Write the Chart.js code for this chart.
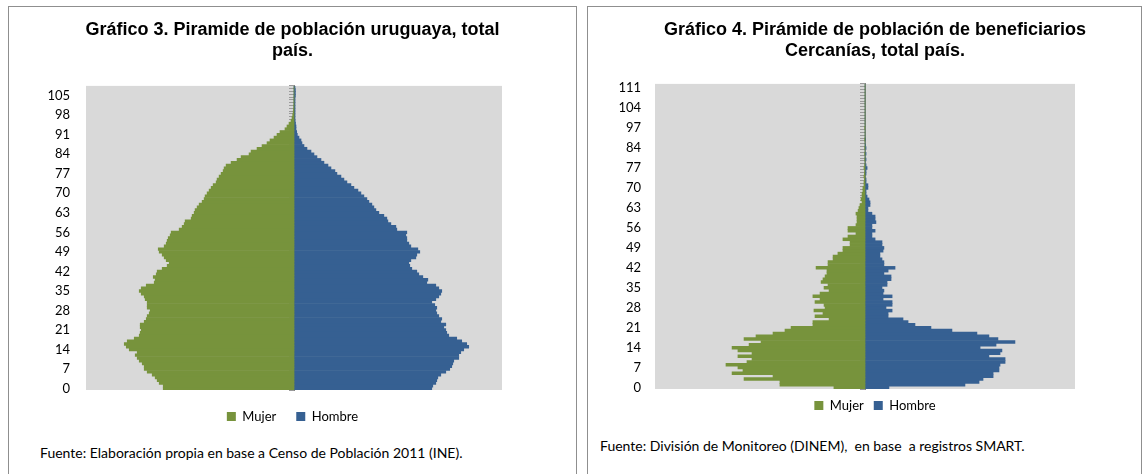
<!DOCTYPE html>
<html lang="es">
<head>
<meta charset="utf-8">
<title>Pirámides de población</title>
<script src="https://cdn.jsdelivr.net/npm/chart.js@4.4.1/dist/chart.umd.min.js"></script>
<style>
  html, body { margin: 0; padding: 0; background: #fff; }
  body { width: 1147px; height: 474px; position: relative; overflow: hidden; font-family: Lato, sans-serif; }
  .panel { position: absolute; top: 6px; height: 480px; border: 1px solid #8f8f8f; box-sizing: border-box; }
  #panel3 { left: 8px; width: 569px; }
  #panel4 { left: 587px; width: 555px; }
  .lienzo { position: absolute; top: 0; }
  #caja3 { left: 0; width: 567px; height: 426px; }
  #caja4 { left: 22px; width: 530px; height: 415px; }
  .fuente { position: absolute; font-size: 14px; color: #000; white-space: nowrap; }
  #fuente3 { left: 31px; top: 437px; }
  #fuente4 { left: 12px; top: 430px; }
</style>
</head>
<body>

<div class="panel" id="panel3">
  <div class="lienzo" id="caja3"><canvas id="piramideUruguay"></canvas></div>
  <div class="fuente" id="fuente3">Fuente: Elaboración propia en base a Censo de Población 2011 (INE).</div>
</div>

<div class="panel" id="panel4">
  <div class="lienzo" id="caja4"><canvas id="piramideCercanias"></canvas></div>
  <div class="fuente" id="fuente4">Fuente: División de Monitoreo (DINEM),&nbsp; en base&nbsp; a registros SMART.</div>
</div>

<script>
// ======================
// DATOS GRÁFICO 3 (censo 2011, personas por edad simple)
// ======================

const edadesUy = [
  0, 1, 2, 3, 4, 5, 6, 7, 8, 9,
  10, 11, 12, 13, 14, 15, 16, 17, 18, 19,
  20, 21, 22, 23, 24, 25, 26, 27, 28, 29,
  30, 31, 32, 33, 34, 35, 36, 37, 38, 39,
  40, 41, 42, 43, 44, 45, 46, 47, 48, 49,
  50, 51, 52, 53, 54, 55, 56, 57, 58, 59,
  60, 61, 62, 63, 64, 65, 66, 67, 68, 69,
  70, 71, 72, 73, 74, 75, 76, 77, 78, 79,
  80, 81, 82, 83, 84, 85, 86, 87, 88, 89,
  90, 91, 92, 93, 94, 95, 96, 97, 98, 99,
  100, 101, 102, 103, 104, 105, 106, 107, 108
];

const mujerUy = [
  18860, 18860, 19440, 19730, 20020, 20450, 21170, 21600, 21600, 21890,
  22320, 22610, 22900, 22610, 23760, 24190, 24480, 24050, 23040, 22320,
  22180, 22030, 22180, 22180, 21600, 21310, 21170, 20880, 20740, 21170,
  21170, 21170, 21460, 21600, 22030, 22320, 22030, 21310, 20160, 20020,
  20300, 19870, 19730, 19010, 18290, 18000, 18430, 18720, 19010, 19440,
  19580, 18720, 18430, 18290, 18140, 17860, 17710, 16560, 16130, 15840,
  15700, 14830, 14690, 14400, 14260, 13970, 13680, 13250, 12960, 12820,
  12530, 12240, 11950, 11660, 11230, 11090, 10800, 10510, 10220, 10080,
  9790, 9070, 8210, 7630, 6480, 6190, 5330, 4610, 3890, 3460,
  2880, 2450, 2020, 1300, 1010, 720, 430, 290, 190, 120,
  80, 50, 30, 20, 15, 10, 5, 5, 5
];

const hombreUy = [
  19870, 20020, 20450, 20590, 20740, 21170, 21890, 22460, 22750, 22900,
  23040, 23760, 23760, 24050, 24480, 25200, 24910, 24190, 23470, 22320,
  22030, 21890, 21600, 21890, 21170, 21310, 20880, 20590, 20450, 20590,
  20300, 19870, 20450, 20880, 21170, 21310, 20880, 20450, 19150, 19300,
  18580, 18000, 17710, 16990, 16700, 16560, 16850, 17570, 17710, 18140,
  17860, 16850, 16560, 16270, 16270, 16130, 16270, 14830, 14690, 13970,
  13540, 13390, 12960, 12240, 11810, 11520, 11230, 10800, 10510, 10080,
  9650, 9220, 8640, 8210, 7630, 7200, 6770, 6190, 5900, 5330,
  4900, 4320, 3890, 3310, 2880, 2450, 1870, 1440, 1150, 1010,
  720, 480, 390, 290, 290, 220, 170, 150, 150, 150,
  150, 150, 150, 150, 150, 200, 200, 200, 150
];

// ======================
// DATOS GRÁFICO 4 (beneficiarios Cercanías)
// ======================

const edadesCerc = [
  0, 1, 2, 3, 4, 5, 6, 7, 8, 9,
  10, 11, 12, 13, 14, 15, 16, 17, 18, 19,
  20, 21, 22, 23, 24, 25, 26, 27, 28, 29,
  30, 31, 32, 33, 34, 35, 36, 37, 38, 39,
  40, 41, 42, 43, 44, 45, 46, 47, 48, 49,
  50, 51, 52, 53, 54, 55, 56, 57, 58, 59,
  60, 61, 62, 63, 64, 65, 66, 67, 68, 69,
  70, 71, 72, 73, 74, 75, 76, 77, 78, 79,
  80, 81, 82, 83, 84, 85, 86, 87, 88, 89,
  92, 97, 98, 99, 100, 101, 102, 103, 104, 105,
  106, 107, 108, 109, 110, 111, 112
];

const mujerCerc = [
  148, 405, 405, 576, 438, 633, 581, 605, 662, 562,
  538, 605, 538, 605, 633, 552, 495, 576, 519, 438,
  381, 352, 248, 248, 171, 238, 200, 243, 190, 195,
  238, 214, 248, 214, 171, 195, 176, 209, 200, 190,
  181, 181, 233, 176, 176, 152, 152, 129, 105, 105,
  71, 71, 105, 81, 43, 81, 81, 43, 38, 38,
  38, 43, 33, 29, 24, 14, 19, 14, 14, 10,
  10, 5, 5, 3, 5, 3, 2, 5, 2, 0,
  2, 0, 2, 0, 2, 0, 0, 2, 0, 0,
  0, 2, 0, 0, 0, 0, 0, 0, 0, 0,
  0, 0, 0, 0, 0, 0, 0
];

const hombreCerc = [
  114, 476, 543, 562, 610, 610, 638, 638, 643, 667,
  667, 590, 643, 652, 548, 624, 714, 633, 590, 533,
  414, 314, 238, 205, 181, 110, 110, 129, 100, 129,
  129, 86, 129, 86, 90, 81, 105, 105, 124, 124,
  90, 110, 143, 90, 90, 81, 71, 71, 86, 90,
  81, 81, 48, 33, 33, 48, 33, 33, 52, 48,
  48, 33, 14, 14, 24, 24, 19, 10, 5, 5,
  14, 14, 5, 5, 0, 5, 5, 10, 5, 0,
  5, 0, 5, 0, 5, 3, 0, 3, 0, 0,
  0, 0, 0, 0, 0, 0, 0, 0, 0, 0,
  0, 0, 0, 0, 0, 0, 0
];

// ======================
// ESTILO COMÚN
// ======================

const VERDE = "#77933C";
const AZUL = "#366092";
const GRIS_FONDO = "#D9D9D9";

const fondoGris = {
  id: "fondoGris",
  beforeDraw(chart) {
    const { ctx, chartArea } = chart;
    ctx.save();
    ctx.fillStyle = GRIS_FONDO;
    ctx.fillRect(
      chartArea.left,
      chartArea.top,
      chartArea.right - chartArea.left,
      chartArea.bottom - chartArea.top
    );
    ctx.restore();
  }
};

// ======================
// CREAR PIRÁMIDE
// ======================
function crearPiramide(idCanvas, cfg) {

  const ctx =
    document
      .getElementById(idCanvas)
      .getContext("2d");

  return new Chart(ctx, {

    type: "bar",

    data: {
      labels: cfg.edades,
      datasets: [
        {
          label: "Mujer",
          data: cfg.mujer.map(v => -v),
          backgroundColor: VERDE,
          borderWidth: 0,
          barPercentage: 1,
          categoryPercentage: 1
        },
        {
          label: "Hombre",
          data: cfg.hombre,
          backgroundColor: AZUL,
          borderWidth: 0,
          barPercentage: 1,
          categoryPercentage: 1
        }
      ]
    },

    options: {
      indexAxis: "y",
      responsive: true,
      maintainAspectRatio: false,
      animation: false,
      layout: { padding: 0 },
      datasets: {
        bar: { grouped: false }
      },
      scales: {
        x: {
          display: false,
          min: -cfg.maximo,
          max: cfg.maximo
        },
        // etiquetas de edad a la izquierda
        y: {
          type: "category",
          position: "left",
          reverse: true,
          offset: true,
          grid: { display: false, drawTicks: false },
          border: { display: false },
          ticks: {
            autoSkip: false,
            padding: cfg.sepEtiquetas,
            color: "#000",
            font: { family: "Lato", size: 13 },
            callback: function (value, index) {
              return index % 7 === 0 ? this.getLabelForValue(value) : "";
            }
          },
          afterFit: (scale) => { scale.width = cfg.anchoIzq; }
        },
        // margen derecho vacío
        margen: {
          type: "linear",
          axis: "y",
          position: "right",
          ticks: { display: false },
          grid: { display: false, drawTicks: false },
          border: { display: false },
          afterFit: (scale) => { scale.width = cfg.anchoDer; }
        },
        // eje central con marcas
        eje: {
          type: "category",
          axis: "y",
          position: { x: 0 },
          reverse: true,
          offset: true,
          z: 1,
          ticks: { display: false },
          grid: {
            offset: true,
            drawOnChartArea: false,
            drawTicks: true,
            tickLength: 5,
            color: "#9A9A9A",
            tickColor: "#9A9A9A",
            lineWidth: 1
          },
          border: { display: true, color: "#868686", width: 1 }
        }
      },
      plugins: {
        title: {
          display: true,
          text: cfg.titulo,
          color: "#000",
          font: { family: "Liberation Sans", size: 18, weight: "bold", lineHeight: 1.15 },
          padding: { top: 12.5, bottom: cfg.sepTitulo }
        },
        legend: {
          position: "bottom",
          labels: {
            boxWidth: 9,
            boxHeight: 9,
            padding: cfg.sepLeyenda,
            color: "#000",
            font: { family: "Lato", size: 13 }
          }
        },
        tooltip: { enabled: false }
      }
    },

    plugins: [fondoGris]

  });

}

// ======================
// GRÁFICO 3
// ======================
crearPiramide("piramideUruguay", {
  edades: edadesUy,
  mujer: mujerUy,
  hombre: hombreUy,
  maximo: 30000,
  titulo: ["Gráfico 3. Piramide de población uruguaya, total", "país."],
  anchoIzq: 77,
  anchoDer: 74,
  sepEtiquetas: 16,
  sepTitulo: 25,
  sepLeyenda: 20
});

// ======================
// GRÁFICO 4
// ======================
crearPiramide("piramideCercanias", {
  edades: edadesCerc,
  mujer: mujerCerc,
  hombre: hombreCerc,
  maximo: 1000,
  titulo: ["Gráfico 4. Pirámide de población de beneficiarios", "Cercanías, total país."],
  anchoIzq: 45,
  anchoDer: 65,
  sepEtiquetas: 14,
  sepTitulo: 23,
  sepLeyenda: 10
});
</script>
</body>
</html>
